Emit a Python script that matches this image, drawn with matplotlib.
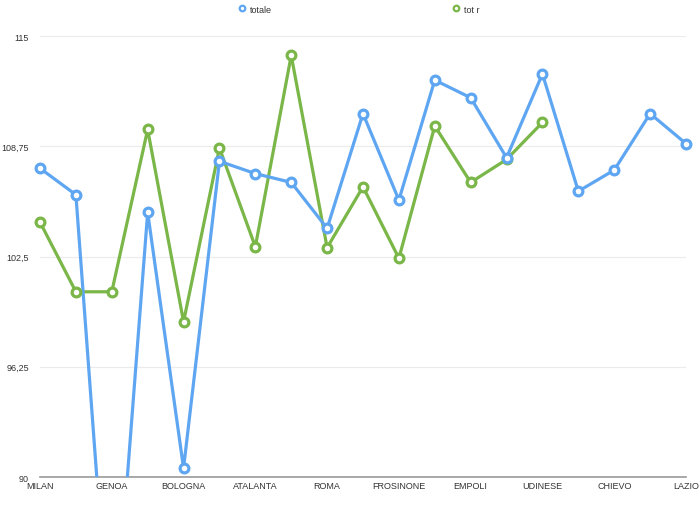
import matplotlib
matplotlib.use('Agg')
import matplotlib.pyplot as plt
from matplotlib.lines import Line2D

# squadre (solo una su due ha l'etichetta)
squadre = ['MILAN', 'INTER', 'GENOA', 'TORINO', 'BOLOGNA', 'SASSUOLO',
           'ATALANTA', 'PARMA', 'ROMA', 'NAPOLI', 'FROSINONE', 'CAGLIARI',
           'EMPOLI', 'FIORENTINA', 'UDINESE', 'SAMPDORIA', 'CHIEVO', 'SPAL',
           'LAZIO']
totale = [107.5, 106.0, 78.5, 105.0, 90.5, 107.9, 107.2, 106.7, 104.1,
          110.6, 105.7, 112.5, 111.5, 108.1, 112.85, 106.2, 107.4, 110.6,
          108.9]
tot_r = [104.45, 100.5, 100.5, 109.7, 98.8, 108.65, 103.05, 113.9, 103.0,
         106.45, 102.4, 109.9, 106.7, 108.0, 110.1]
y_ticks = [90, 96.25, 102.5, 108.75, 115]
y_labels = ['90', '96,25', '102,5', '108,75', '115']

blu = '#5ea6f2'
verde = '#7ab648'

plt.rcParams['font.family'] = ['Liberation Sans', 'DejaVu Sans']

fig = plt.figure(figsize=(7, 5.06), dpi=100)
ax = fig.add_axes([40 / 700, 28 / 506, 646 / 700, 441 / 506])

x_tot = list(range(len(totale)))
x_r = list(range(len(tot_r)))

for xs, ys, col in [(x_r, tot_r, verde), (x_tot, totale, blu)]:
    ax.plot(xs, ys, color=col, lw=2.3, zorder=3)
    ax.plot(xs, ys, ls='none', marker='o', ms=6.3, mew=2.3,
            mec=col, mfc='white', clip_on=False, zorder=4)

ax.set_xlim(0, len(squadre) - 1)
ax.set_ylim(90, 115)
ax.set_xticks(x_tot[::2])
ax.set_xticklabels(squadre[::2])
ax.set_yticks(y_ticks)
ax.set_yticklabels(y_labels)
ax.tick_params(length=0, labelsize=6.5, colors='#333333')
ax.tick_params(axis='y', pad=8)
ax.tick_params(axis='x', pad=3)

for s in ['top', 'right', 'left']:
    ax.spines[s].set_visible(False)
ax.spines['bottom'].set_color('#999999')
ax.spines['bottom'].set_linewidth(1.2)
ax.grid(axis='y', color='#ebebeb', lw=0.8)
ax.set_axisbelow(True)

handles = [Line2D([], [], ls='none', marker='o', ms=4, mew=1.6, mec=c,
                  mfc='white') for c in (blu, verde)]
fig.legend(handles, ['totale', 'tot r'], loc='upper center',
           bbox_to_anchor=(0.513, 1.005), ncol=2, frameon=False,
           fontsize=6.5, handlelength=0.8, handletextpad=0.5,
           columnspacing=20, labelcolor='#333333')

fig.savefig('out.png', dpi=100)
